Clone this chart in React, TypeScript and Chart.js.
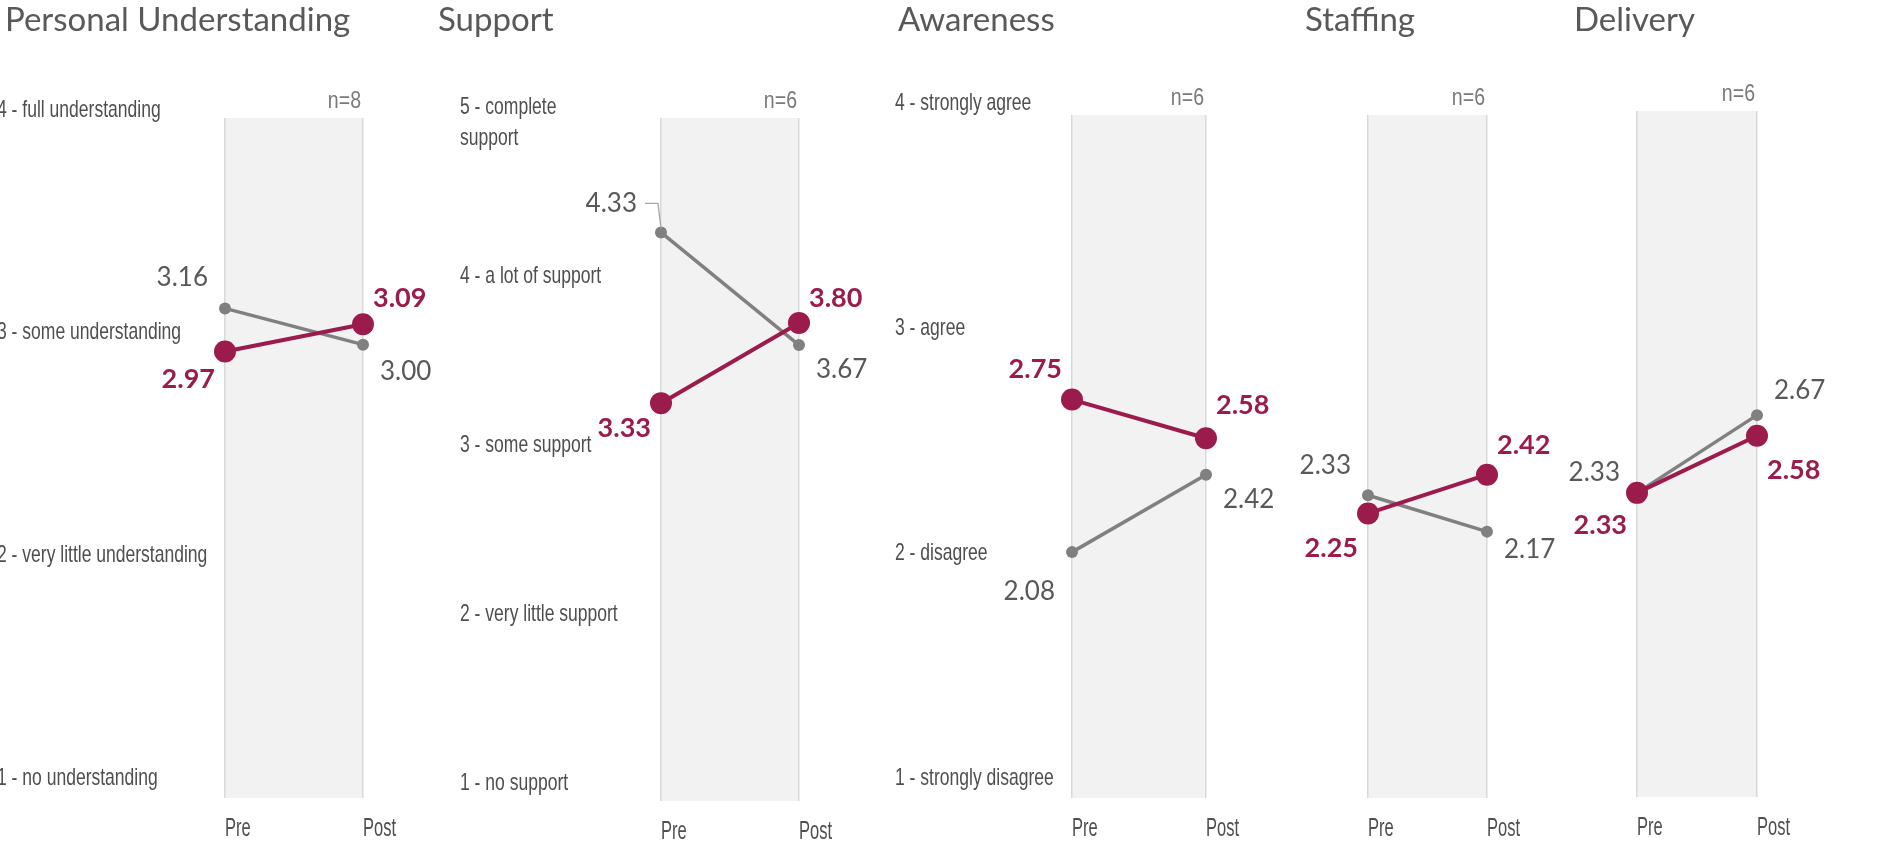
import { useEffect, useRef } from 'react';
import Chart from 'chart.js/auto';

// Pre/post mean ratings per theme
const themes = ['Personal Understanding', 'Support', 'Awareness', 'Staffing', 'Delivery'];
const respondents = [8, 6, 6, 6, 6];
const phases = ['Pre', 'Post'];
const cohortPre = [2.97, 3.33, 2.75, 2.25, 2.33];
const cohortPost = [3.09, 3.8, 2.58, 2.42, 2.58];
const comparisonPre = [3.16, 4.33, 2.08, 2.33, 2.33];
const comparisonPost = [3.0, 3.67, 2.42, 2.17, 2.67];

// Rating scale wording (index 0 = rating 1)
const understandingScale = ['1 - no understanding', '2 - very little understanding', '3 - some understanding', '4 - full understanding'];
const supportScale = ['1 - no support', '2 - very little support', '3 - some support', '4 - a lot of support', ['5 - complete', 'support']];
const agreementScale = ['1 - strongly disagree', '2 - disagree', '3 - agree', '4 - strongly agree'];
const scaleLabels: (Array<string | string[]> | null)[] = [understandingScale, supportScale, agreementScale, null, null];
const scaleMax = [4, 5, 4, 4, 4];

// Panel frames on the page (canvas extent, rating labels, Pre/Post band)
const frames = [
  { left: -3, labelX: -3, titleX: 5, pre: 225, post: 363, top: 118, bottom: 798, right: 440, shiftTop: -8, shiftBottom: -20 },
  { left: 430, labelX: 460, titleX: 438, pre: 661, post: 799, top: 118, bottom: 801, right: 880, shiftTop: -11, shiftBottom: -18 },
  { left: 880, labelX: 895, titleX: 898, pre: 1072, post: 1206, top: 115, bottom: 798, right: 1295, shiftTop: -12, shiftBottom: -20 },
  { left: 1295, labelX: 1295, titleX: 1305, pre: 1368, post: 1487, top: 115, bottom: 798, right: 1565, shiftTop: 0, shiftBottom: 0 },
  { left: 1565, labelX: 1565, titleX: 1574, pre: 1637, post: 1757, top: 111, bottom: 797, right: 1902, shiftTop: 0, shiftBottom: 0 },
];

// Vertical offset of each value label from its point:
// [cohort pre, cohort post, comparison pre, comparison post]; leader = label index drawn with a leader line
const labelLayout = [
  { dy: [28, -26, -31, 27], leader: -1 },
  { dy: [25, -25, -29, 25], leader: 2 },
  { dy: [-30, -33, 39, 25], leader: -1 },
  { dy: [35, -29, -30, 18], leader: -1 },
  { dy: [32, 35, -20, -25], leader: -1 },
];

const PAGE_H = 861;
const X_AXIS_H = 60;
const PURPLE = '#9b1b4c';
const GREY = '#808080';
const TEXT = '#595959';
const AXIS_TEXT = '#4f4f4f';
const SANS = "'Liberation Sans', Arial, sans-serif";
const HUMANIST = "Lato, 'Open Sans', sans-serif";

// Condensed text: a regular face squeezed horizontally
function condensedText(ctx: CanvasRenderingContext2D, text: string, x: number, y: number, align: CanvasTextAlign, squeeze: number) {
  ctx.save();
  ctx.translate(x, y);
  ctx.scale(squeeze, 1);
  ctx.textAlign = align;
  ctx.fillText(text, 0, 0);
  ctx.restore();
}

const panelDecor = {
  id: 'panelDecor',
  beforeDraw(chart: any) {
    const { ctx, chartArea: a } = chart;
    ctx.save();
    ctx.fillStyle = '#f2f2f2';
    ctx.fillRect(a.left, a.top, a.right - a.left, a.bottom - a.top);
    ctx.restore();
  },
  afterDatasetsDraw(chart: any, _args: any, opts: any) {
    const { ctx, chartArea: a } = chart;
    const xs = chart.scales.x;
    const ys = chart.scales.y;
    ctx.save();

    // theme title
    ctx.fillStyle = TEXT;
    ctx.font = `400 33px ${HUMANIST}`;
    ctx.textAlign = 'left';
    ctx.textBaseline = 'alphabetic';
    ctx.fillText(opts.title, opts.titleOffset, 31);
    ctx.textBaseline = 'middle';

    // rating scale wording on the left
    if (opts.scale) {
      ctx.fillStyle = AXIS_TEXT;
      ctx.font = `400 24px ${SANS}`;
      const max = ys.max;
      const min = ys.min;
      opts.scale.forEach((entry: string | string[], i: number) => {
        const v = i + 1;
        const t = (max - v) / (max - min);
        const y = ys.getPixelForValue(v) + opts.shiftTop + (opts.shiftBottom - opts.shiftTop) * t;
        const lines = Array.isArray(entry) ? entry : [entry];
        lines.forEach((line, k) => condensedText(ctx, line, ys.left, y + k * 31, 'left', 0.73));
      });
    }

    // Pre / Post under the band edges
    ctx.fillStyle = AXIS_TEXT;
    ctx.font = `400 25px ${SANS}`;
    chart.data.labels.forEach((lab: string, i: number) => {
      condensedText(ctx, lab, xs.getPixelForTick(i), a.bottom + 31, 'left', 0.66);
    });

    // sample size above the Post line
    ctx.fillStyle = '#7a7a7a';
    ctx.font = `400 23px ${SANS}`;
    condensedText(ctx, `n=${opts.n}`, a.right - 2, a.top - 16, 'right', 0.85);

    // value labels beside each point
    chart.data.datasets.forEach((ds: any, d: number) => {
      const meta = chart.getDatasetMeta(d);
      const cohort = d === 0;
      meta.data.forEach((pt: any, i: number) => {
        const k = d * 2 + i;
        const leader = opts.leader === k;
        const isPre = i === 0;
        const text = Number(ds.data[i]).toFixed(2);
        const dx = leader ? 24 : cohort ? 10 : 17;
        const tx = isPre ? pt.x - dx : pt.x + dx;
        const ty = pt.y + opts.dy[k];
        ctx.fillStyle = cohort ? PURPLE : TEXT;
        ctx.font = cohort ? `700 27px ${HUMANIST}` : `400 26px ${HUMANIST}`;
        ctx.textAlign = isPre ? 'right' : 'left';
        ctx.fillText(text, tx, ty);
        if (leader) {
          ctx.strokeStyle = '#a6a6a6';
          ctx.lineWidth = 1.3;
          ctx.beginPath();
          ctx.moveTo(tx + 8, ty);
          ctx.lineTo(pt.x - 3, ty);
          ctx.lineTo(pt.x, pt.y - 4);
          ctx.stroke();
        }
      });
    });
    ctx.restore();
  },
};

function ThemePanel({ index }: { index: number }) {
  const ref = useRef<HTMLCanvasElement>(null);
  const f = frames[index];

  useEffect(() => {
    if (!ref.current) return;
    const chart = new Chart(ref.current, {
      type: 'line',
      data: {
        labels: phases,
        datasets: [
          {
            label: 'Cohort',
            data: [cohortPre[index], cohortPost[index]],
            borderColor: PURPLE,
            backgroundColor: PURPLE,
            borderWidth: 4,
            pointRadius: 11,
            pointBorderWidth: 0,
            pointHoverRadius: 11,
            clip: false,
          },
          {
            label: 'Comparison',
            data: [comparisonPre[index], comparisonPost[index]],
            borderColor: GREY,
            backgroundColor: GREY,
            borderWidth: 3.5,
            pointRadius: 6,
            pointBorderWidth: 0,
            pointHoverRadius: 6,
            clip: false,
          },
        ],
      },
      options: {
        responsive: false,
        animation: false,
        events: [],
        layout: {
          padding: {
            left: f.labelX - f.left,
            right: f.right - f.post,
            top: f.top,
            bottom: PAGE_H - f.bottom - X_AXIS_H,
          },
        },
        plugins: {
          legend: { display: false },
          tooltip: { enabled: false },
          panelDecor: {
            title: themes[index],
            titleOffset: f.titleX - f.left,
            n: respondents[index],
            scale: scaleLabels[index],
            shiftTop: f.shiftTop,
            shiftBottom: f.shiftBottom,
            dy: labelLayout[index].dy,
            leader: labelLayout[index].leader,
          },
        } as any,
        scales: {
          x: {
            type: 'category',
            offset: false,
            grid: { color: '#d9d9d9', lineWidth: 1.5, drawTicks: false },
            border: { display: false },
            ticks: { display: false },
            afterFit: (s: any) => {
              s.height = X_AXIS_H;
            },
          },
          y: {
            type: 'linear',
            min: 1,
            max: scaleMax[index],
            grid: { display: false },
            border: { display: false },
            ticks: { display: false, stepSize: 1 },
            afterFit: (s: any) => {
              s.width = f.pre - f.labelX;
            },
          },
        },
      },
      plugins: [panelDecor],
    } as any);
    return () => chart.destroy();
  }, [index]);

  return (
    <canvas
      ref={ref}
      width={f.right - f.left}
      height={PAGE_H}
      style={{ position: 'absolute', left: f.left, top: 0 }}
    />
  );
}

export default function App() {
  return (
    <div style={{ position: 'fixed', left: 0, top: 0, width: 1902, height: PAGE_H, background: '#fff', overflow: 'hidden' }}>
      {themes.map((_, i) => (
        <ThemePanel key={i} index={i} />
      ))}
    </div>
  );
}
